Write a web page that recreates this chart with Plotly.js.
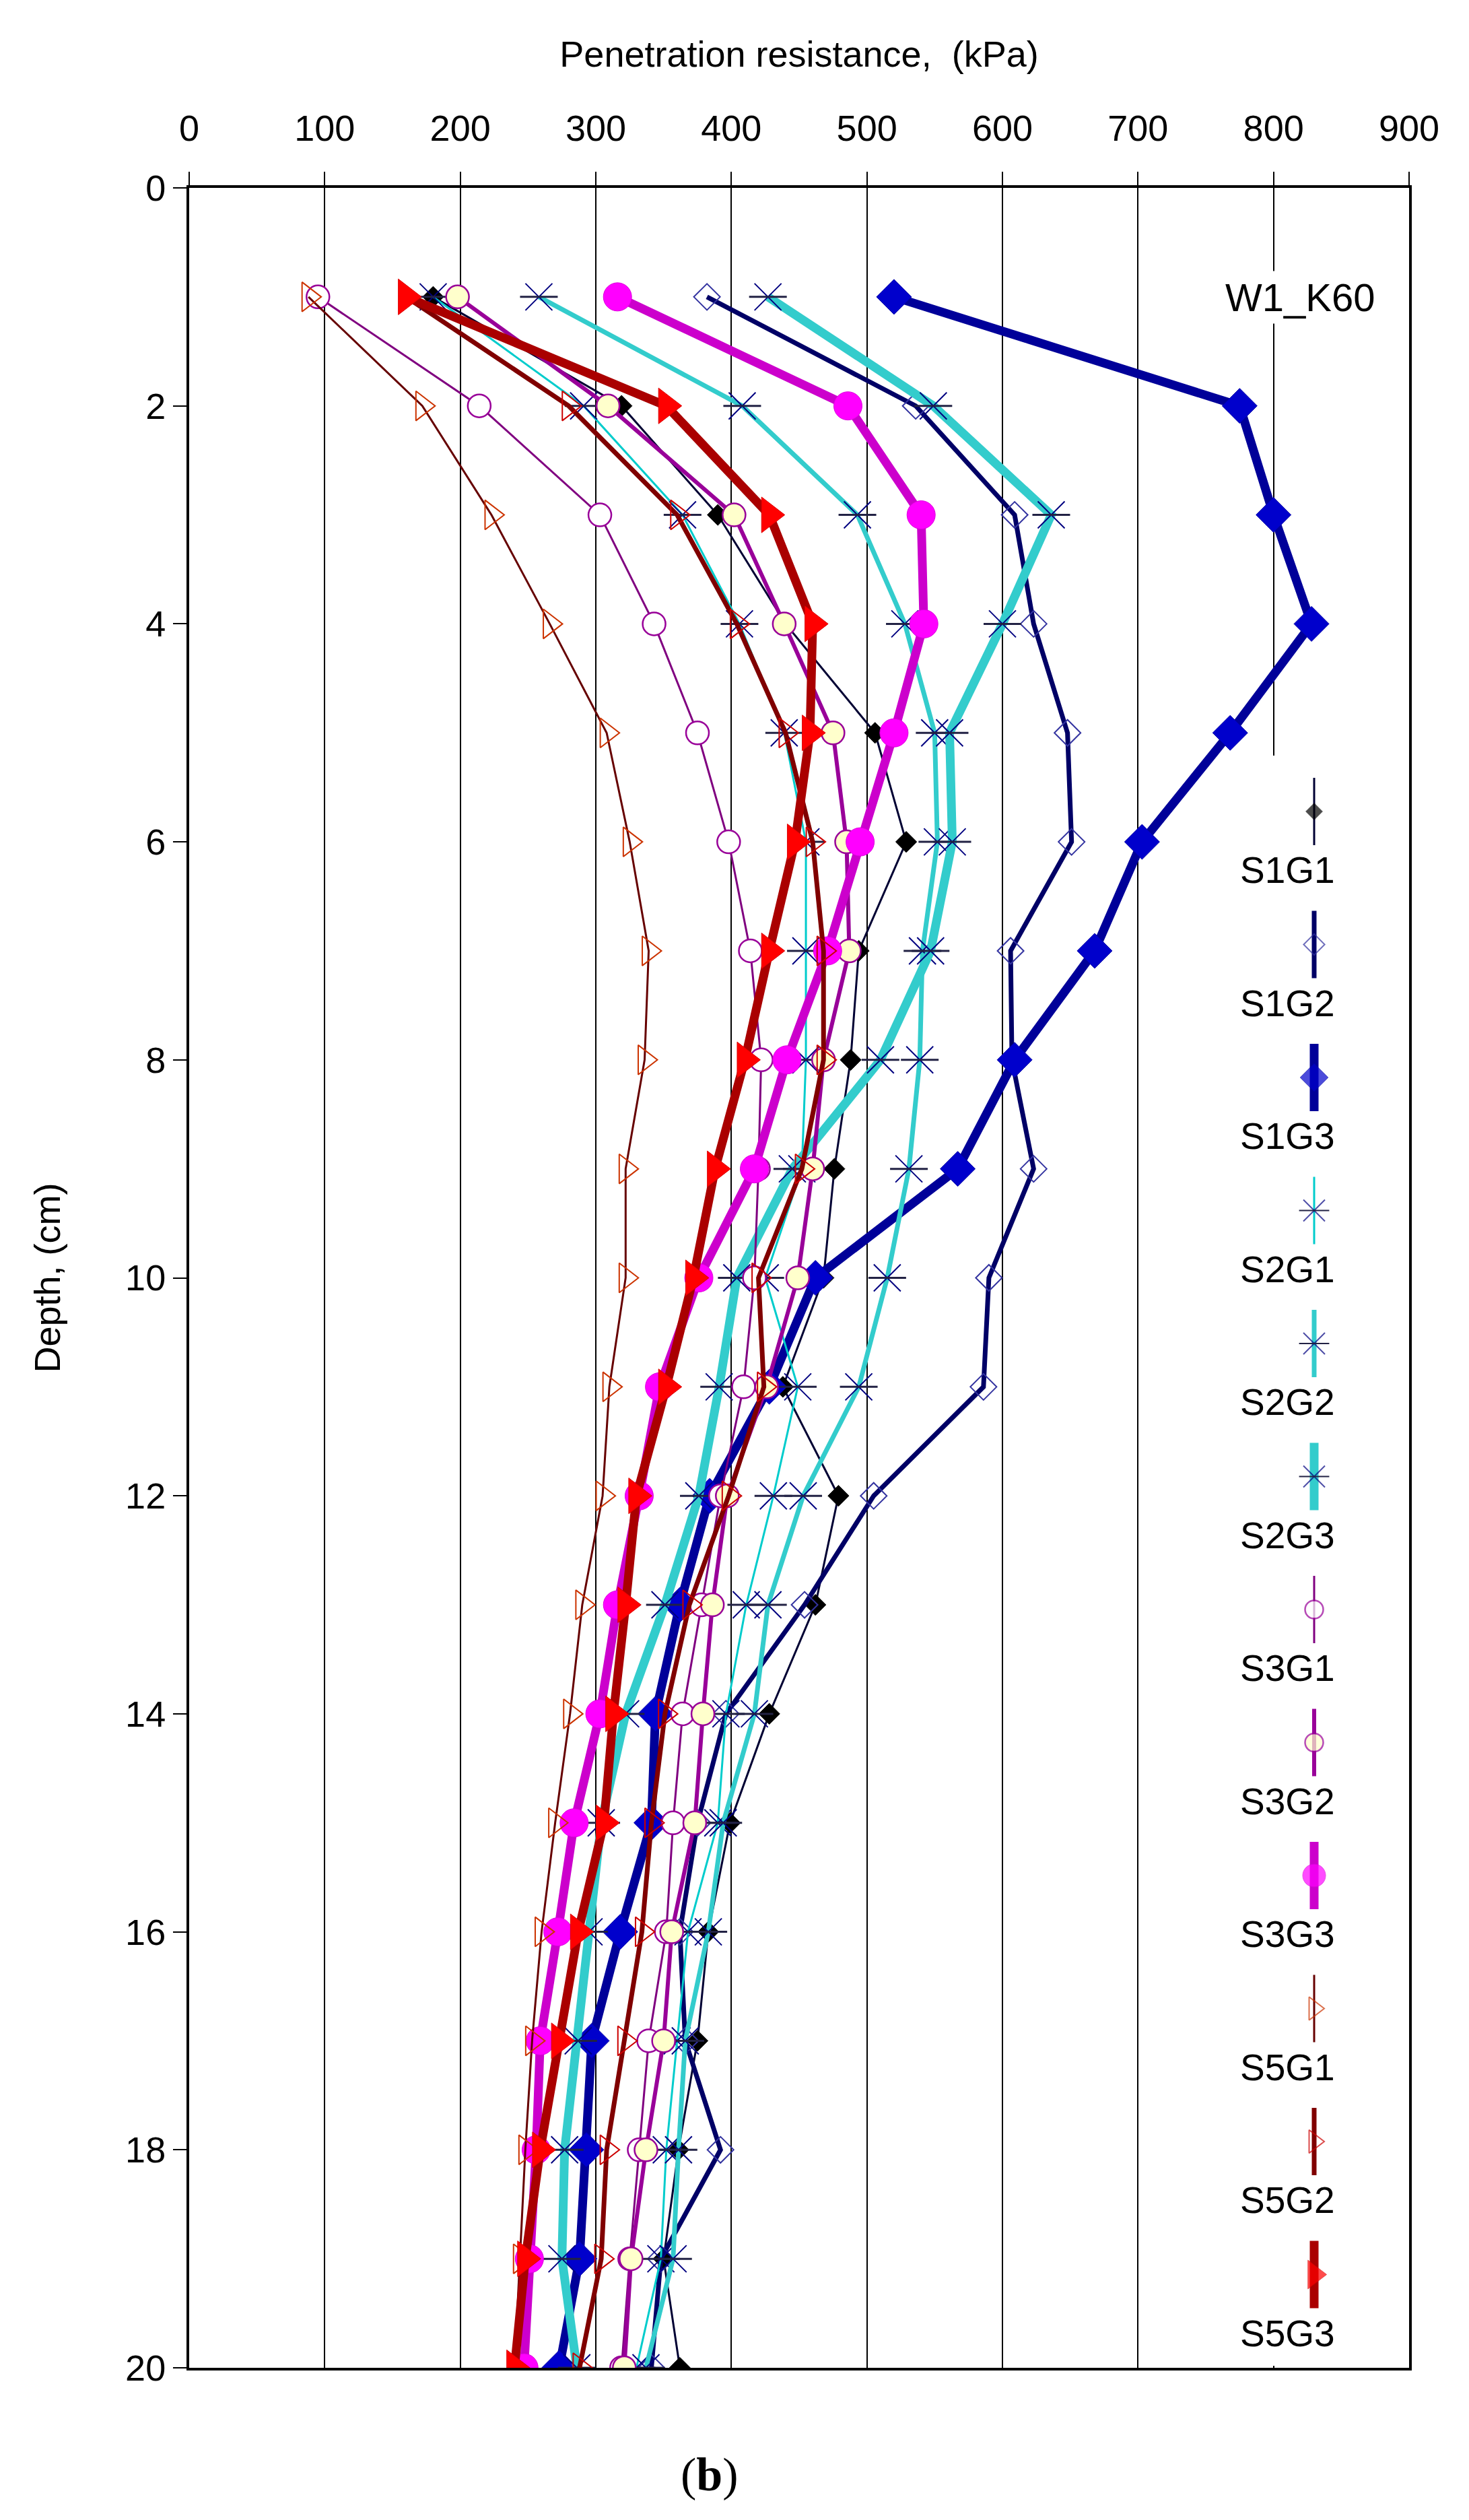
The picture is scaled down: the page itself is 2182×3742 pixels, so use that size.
<!DOCTYPE html>
<html>
<head>
<meta charset="utf-8">
<script src="https://cdn.plot.ly/plotly-3.0.1.min.js"></script>
<style>html,body{margin:0;padding:0;background:#fff;}#chart{width:2182px;height:3742px;}</style>
</head>
<body>
<div id="chart"></div>
<script>
// ---- data (depth in cm, penetration resistance in kPa) ----
const depth = [1,2,3,4,5,6,7,8,9,10,11,12,13,14,15,16,17,18,19,20];
const seriesNames = ["S1G1","S1G2","S1G3","S2G1","S2G2","S2G3","S3G1","S3G2","S3G3","S5G1","S5G2","S5G3"];
const S1G1 = [180,319,390,440,506,529,494,488,476,468,438,479,462,428,399,383,375,361,350,362];
const S1G2 = [382,536,609,623,648,651,606,607,623,590,586,505,454,396,375,362,366,392,348,341];
const S1G3 = [520,775,800,828,768,703,668,609,567,462,428,384,362,344,341,318,297,293,288,273];
const S2G1 = [180,291,364,406,439,455,455,455,452,425,449,431,411,396,390,368,360,352,348,330];
const S2G2 = [258,408,493,528,550,552,541,539,531,515,494,453,427,417,394,383,366,361,357,337];
const S2G3 = [427,549,636,600,561,563,547,510,445,404,391,376,351,322,304,295,287,277,275,286];
const S3G1 = [95,214,303,343,375,398,414,422,420,417,409,392,378,364,357,352,339,332,325,319];
const S3G2 = [198,309,402,439,475,485,487,468,460,449,426,397,386,379,373,356,350,337,326,321];
const S3G3 = [316,486,540,542,520,495,471,441,417,376,347,332,316,303,284,272,259,256,251,247];
const S5G1 = [88,172,223,266,308,325,339,336,322,322,310,305,290,281,270,260,253,248,244,240];
const S5G2 = [160,280,360,404,440,460,468,468,452,420,424,398,369,351,341,334,321,308,304,288];
const S5G3 = [160,352,428,460,458,447,428,410,388,372,352,330,322,313,306,287,273,259,248,240];
const xTicks = [0,100,200,300,400,500,600,700,800,900];
const yTicks = [0,2,4,6,8,10,12,14,16,18,20];
const xTitle = "Penetration resistance,  (kPa)";
const yTitle = "Depth, (cm)";
const boxLabel = "W1_K60";
const panelLabel = "(<b>b</b>)";

const values = {S1G1,S1G2,S1G3,S2G1,S2G2,S2G3,S3G1,S3G2,S3G3,S5G1,S5G2,S5G3};

// ---- styles ----
const styles = {
  S1G1:{lc:"#000033", lw:3,  sym:"diamond", mc:"#000000", ms:24, mlc:"#000000", mlw:1},
  S1G2:{lc:"#000066", lw:7,  sym:"diamond-open", mc:"#3333A0", ms:30, mlc:"#3333A0", mlw:2},
  S1G3:{lc:"#000099", lw:13, sym:"diamond", mc:"#0000CC", ms:40, mlc:"#0000AA", mlw:1},
  S2G1:{lc:"#00CCCC", lw:3,  star:true, ms:40},
  S2G2:{lc:"#33CCCC", lw:7,  star:true, ms:40},
  S2G3:{lc:"#33CCCC", lw:13, star:true, ms:40},
  S3G1:{lc:"#800080", lw:3,  sym:"circle", mc:"#FFFFFF", ms:34, mlc:"#990099", mlw:2.5},
  S3G2:{lc:"#990099", lw:6,  sym:"circle", mc:"#FFFFCC", ms:34, mlc:"#990099", mlw:2.5},
  S3G3:{lc:"#CC00CC", lw:13, sym:"circle", mc:"#FF00FF", ms:42, mlc:"#DD00DD", mlw:1},
  S5G1:{lc:"#660000", lw:3,  sym:"triangle-right-open", mc:"#CC3300", ms:38, mlc:"#CC3300", mlw:2},
  S5G2:{lc:"#800000", lw:7,  sym:"triangle-right-open", mc:"#CC0000", ms:38, mlc:"#CC0000", mlw:2},
  S5G3:{lc:"#AA0000", lw:13, sym:"triangle-right", mc:"#FF0000", ms:46, mlc:"#DD0000", mlw:1}
};

const FONT = "Liberation Sans, Arial, Helvetica, sans-serif";
const traces = [];
seriesNames.forEach(name => {
  const st = styles[name];
  const xs = values[name];
  if (st.star) {
    traces.push({type:"scatter", mode:"lines+markers", x:xs, y:depth, name:name, showlegend:false,
      line:{color:st.lc, width:st.lw},
      marker:{symbol:"x-thin-open", size:st.ms, color:"#000080", line:{color:"#000080", width:2}}});
    traces.push({type:"scatter", mode:"markers", x:xs, y:depth, name:name, showlegend:false, hoverinfo:"skip",
      marker:{symbol:"line-ew-open", size:st.ms, color:"#222244", line:{color:"#222244", width:3}}});
  } else {
    traces.push({type:"scatter", mode:"lines+markers", x:xs, y:depth, name:name, showlegend:false,
      line:{color:st.lc, width:st.lw},
      marker:{symbol:st.sym, size:st.ms, color:st.mc, line:{color:st.mlc, width:st.mlw}}});
  }
});

// ---- custom vertical legend (pixel-space overlay axes) ----
const L = 281, R = 2093, T = 279, B = 3516;
const legX = 1952, legY0 = 1205, legStep = 197.5, legHalf = 50, legLabelDx = 1912, legLabelDy = 87;
const annotations = [];
seriesNames.forEach((name, i) => {
  const st = styles[name];
  const my = legY0 + i * legStep;
  const sz = Math.round(st.ms * 0.8);
  if (st.star) {
    traces.push({type:"scatter", mode:"lines+markers", xaxis:"x2", yaxis:"y2", showlegend:false, hoverinfo:"skip",
      x:[legX,legX,legX], y:[my-legHalf, my, my+legHalf], line:{color:st.lc, width:st.lw},
      marker:{symbol:"x-thin-open", size:[0,sz,0], color:"#000080", line:{color:"#000080", width:2}}});
    traces.push({type:"scatter", mode:"markers", xaxis:"x2", yaxis:"y2", showlegend:false, hoverinfo:"skip",
      x:[legX], y:[my], marker:{symbol:"line-ew-open", size:sz, color:"#222244", line:{color:"#222244", width:2}}});
  } else {
    traces.push({type:"scatter", mode:"lines+markers", xaxis:"x2", yaxis:"y2", showlegend:false, hoverinfo:"skip",
      x:[legX,legX,legX], y:[my-legHalf, my, my+legHalf], line:{color:st.lc, width:st.lw},
      marker:{symbol:st.sym, size:[0,sz,0], color:st.mc, line:{color:st.mlc, width:st.mlw}}});
  }
  annotations.push({xref:"x2", yref:"y2", x:legLabelDx, y:my+legLabelDy, text:name, showarrow:false,
    xanchor:"center", yanchor:"middle", font:{family:FONT, size:55, color:"#000"}});
});

annotations.push({xref:"x2", yref:"y2", x:1931, y:441, text:boxLabel, showarrow:false, bgcolor:"#FFFFFF",
  xanchor:"center", yanchor:"middle", borderpad:6, font:{family:FONT, size:58, color:"#000"}});
annotations.push({xref:"paper", yref:"paper", x:(1054-L)/(R-L), y:1-(3674-T)/(B-T), text:panelLabel, showarrow:false,
  xanchor:"center", yanchor:"middle", font:{family:"Liberation Serif, Times New Roman, serif", size:70, color:"#000"}});

// legend background box, converted from pixels to data units of the main axes
const px2x = p => (p - L) / (R - L) * 900;
const py2y = p => (p - T) / (B - T) * 20;

const layout = {
  width:2182, height:3742,
  margin:{l:L, r:2182-R, t:T, b:3742-B, pad:0},
  paper_bgcolor:"#FFFFFF", plot_bgcolor:"#FFFFFF",
  showlegend:false,
  font:{family:FONT, size:54, color:"#000"},
  xaxis:{side:"top", range:[0,900], tickvals:xTicks, ticktext:xTicks.map(String),
    showgrid:true, gridcolor:"#000000", gridwidth:2, zeroline:false,
    showline:true, linecolor:"#000000", linewidth:4, mirror:true,
    ticks:"outside", ticklen:20, tickwidth:2, tickcolor:"#000",
    ticklabelstandoff:24, tickfont:{family:FONT, size:54, color:"#000"},
    title:{text:xTitle, standoff:45, font:{family:FONT, size:54, color:"#000"}}, automargin:false},
  yaxis:{range:[20,0], tickvals:yTicks, ticktext:yTicks.map(String),
    showgrid:false, zeroline:false,
    showline:true, linecolor:"#000000", linewidth:4, mirror:true,
    ticks:"outside", ticklen:20, tickwidth:2, tickcolor:"#000",
    tickfont:{family:FONT, size:54, color:"#000"},
    title:{text:yTitle, standoff:80, font:{family:FONT, size:54, color:"#000"}}, automargin:false},
  xaxis2:{overlaying:"x", range:[L,R], visible:false, fixedrange:true},
  yaxis2:{overlaying:"y", range:[B,T], visible:false, fixedrange:true},
  shapes:[{type:"rect", xref:"x", yref:"y", x0:px2x(1830), x1:px2x(R-4), y0:py2y(1122), y1:py2y(B-3),
    fillcolor:"#FFFFFF", line:{width:0}, layer:"between"}],
  annotations:annotations
};

Plotly.newPlot("chart", traces, layout, {displayModeBar:false, staticPlot:true});
</script>
</body>
</html>
